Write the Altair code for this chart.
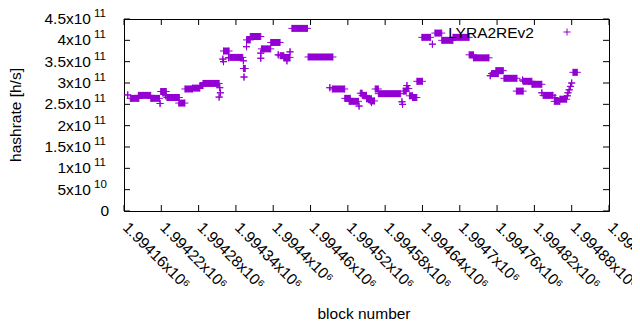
import altair as alt
import pandas as pd

# ---- data ----
seg_start = [1994166, 1994170, 1994183, 1994203, 1994218, 1994219, 1994227, 1994229, 1994248, 1994258,
             1994270, 1994282, 1994287, 1994314, 1994315, 1994313, 1994319, 1994320, 1994320, 1994328,
             1994330, 1994352, 1994352, 1994353, 1994357, 1994357, 1994363, 1994380, 1994380, 1994381,
             1994396, 1994408, 1994411, 1994417, 1994422, 1994427, 1994430, 1994456, 1994491, 1994495,
             1994515, 1994522, 1994538, 1994540, 1994543, 1994550, 1994556, 1994558, 1994564, 1994569,
             1994607, 1994608, 1994609, 1994614, 1994615, 1994619, 1994624, 1994631, 1994639, 1994656,
             1994660, 1994671, 1994689, 1994715, 1994722, 1994749, 1994751, 1994758, 1994771, 1994791,
             1994801, 1994802, 1994816, 1994832, 1994834, 1994853, 1994852, 1994861, 1994873, 1994874,
             1994876, 1994878, 1994880, 1994882]
seg_end = [1994166, 1994184, 1994203, 1994217, 1994218, 1994228, 1994227, 1994249, 1994258, 1994270,
           1994282, 1994287, 1994313, 1994314, 1994315, 1994313, 1994319, 1994320, 1994329, 1994328,
           1994351, 1994352, 1994355, 1994353, 1994357, 1994363, 1994380, 1994380, 1994380, 1994396,
           1994411, 1994408, 1994417, 1994427, 1994422, 1994427, 1994455, 1994496, 1994491, 1994515,
           1994524, 1994537, 1994538, 1994543, 1994550, 1994558, 1994563, 1994558, 1994569, 1994605,
           1994607, 1994608, 1994614, 1994618, 1994615, 1994624, 1994631, 1994640, 1994653, 1994656,
           1994671, 1994689, 1994715, 1994722, 1994747, 1994749, 1994762, 1994770, 1994792, 1994802,
           1994801, 1994816, 1994832, 1994832, 1994850, 1994853, 1994861, 1994872, 1994873, 1994874,
           1994876, 1994878, 1994880, 1994889]
seg_value = [2.72e11, 2.64e11, 2.71e11, 2.64e11, 2.52e11, 2.80e11, 2.70e11, 2.66e11, 2.53e11, 2.86e11,
             2.88e11, 2.94e11, 2.99e11, 2.89e11, 2.77e11, 2.67e11, 3.56e11, 3.50e11, 3.75e11, 3.59e11,
             3.60e11, 3.52e11, 3.34e11, 3.14e11, 3.85e11, 4.01e11, 4.09e11, 3.58e11, 3.70e11, 3.80e11,
             3.95e11, 3.66e11, 3.64e11, 3.60e11, 3.52e11, 3.73e11, 4.28e11, 3.61e11, 2.89e11, 2.86e11,
             2.64e11, 2.57e11, 2.46e11, 2.76e11, 2.71e11, 2.63e11, 2.58e11, 2.54e11, 2.86e11, 2.75e11,
             2.56e11, 2.50e11, 2.81e11, 2.87e11, 2.94e11, 2.70e11, 2.66e11, 3.04e11, 4.07e11, 3.91e11,
             4.17e11, 4.00e11, 4.07e11, 3.66e11, 3.59e11, 3.17e11, 3.22e11, 3.29e11, 3.11e11, 2.81e11,
             3.07e11, 3.04e11, 2.97e11, 2.77e11, 2.71e11, 2.66e11, 2.57e11, 2.62e11, 2.70e11, 2.77e11,
             2.84e11, 2.92e11, 3.00e11, 3.25e11]

xtick_values = [1994160, 1994220, 1994280, 1994340, 1994400, 1994460, 1994520,
                1994580, 1994640, 1994700, 1994760, 1994820, 1994880, 1994940]
xtick_labels = ["1.99416x10⁶", "1.99422x10⁶", "1.99428x10⁶", "1.99434x10⁶", "1.9944x10⁶",
                "1.99446x10⁶", "1.99452x10⁶", "1.99458x10⁶", "1.99464x10⁶", "1.9947x10⁶",
                "1.99476x10⁶", "1.99482x10⁶", "1.99488x10⁶", "1.99494x10⁶"]

ytick_values = [0, 5e10, 1e11, 1.5e11, 2e11, 2.5e11, 3e11, 3.5e11, 4e11, 4.5e11]
ytick_base = ["0", "5x10", "1x10", "1.5x10", "2x10", "2.5x10", "3x10", "3.5x10", "4x10", "4.5x10"]
ytick_exp = ["", "10", "11", "11", "11", "11", "11", "11", "11", "11"]

series_name = "LYRA2REv2"
x_title = "block number"
y_title = "hashrate [h/s]"

# ---- layout ----
W, H = 485, 192
COLOR = "#9400d3"
FONT = "Liberation Sans"
FS = 15.5
PLUS = "M-1,0L1,0M0,-1L0,1"

xs = alt.Scale(domain=[1994160, 1994940], nice=False, zero=False)
ys = alt.Scale(domain=[0, 4.5e11], nice=False, zero=False)

segs = pd.DataFrame({"start": seg_start, "end": seg_end, "value": seg_value})
pts = pd.concat([
    pd.DataFrame({"block": seg_start, "value": seg_value}),
    pd.DataFrame({"block": seg_end, "value": seg_value}),
])
xt = pd.DataFrame({"v": xtick_values, "label": xtick_labels})
yt = pd.DataFrame({"v": ytick_values, "base": ytick_base, "exp": ytick_exp})

bars = alt.Chart(segs).mark_rule(color=COLOR, strokeWidth=7, strokeCap="butt").encode(
    x=alt.X("start:Q", scale=xs, axis=None),
    x2="end:Q",
    y=alt.Y("value:Q", scale=ys, axis=None),
)
plus = alt.Chart(pts).mark_point(shape=PLUS, filled=False, color=COLOR, strokeWidth=1,
                                  size=49, opacity=1).encode(
    x=alt.X("block:Q", scale=xs, axis=None),
    y=alt.Y("value:Q", scale=ys, axis=None),
)

# inward ticks on all four sides
tick_len = 6
yt_left = alt.Chart(yt).mark_rule(color="black", strokeWidth=1).encode(
    x=alt.value(0), x2=alt.value(tick_len), y=alt.Y("v:Q", scale=ys, axis=None))
yt_right = alt.Chart(yt).mark_rule(color="black", strokeWidth=1).encode(
    x=alt.value(W - tick_len), x2=alt.value(W), y=alt.Y("v:Q", scale=ys, axis=None))
xt_bot = alt.Chart(xt).mark_rule(color="black", strokeWidth=1).encode(
    y=alt.value(H - tick_len), y2=alt.value(H), x=alt.X("v:Q", scale=xs, axis=None))
xt_top = alt.Chart(xt).mark_rule(color="black", strokeWidth=1).encode(
    y=alt.value(0), y2=alt.value(tick_len), x=alt.X("v:Q", scale=xs, axis=None))

# y tick labels
yl_base = alt.Chart(yt[yt["exp"] != ""]).mark_text(
    align="right", baseline="middle", font=FONT, fontSize=FS, color="black").encode(
    x=alt.value(-33), y=alt.Y("v:Q", scale=ys, axis=None), text="base:N")
yl_exp = alt.Chart(yt[yt["exp"] != ""]).mark_text(
    align="left", baseline="middle", font=FONT, fontSize=11.5, color="black", dy=-5).encode(
    x=alt.value(-30), y=alt.Y("v:Q", scale=ys, axis=None), text="exp:N")
yl_zero = alt.Chart(yt[yt["exp"] == ""]).mark_text(
    align="right", baseline="middle", font=FONT, fontSize=FS, color="black").encode(
    x=alt.value(-15), y=alt.Y("v:Q", scale=ys, axis=None), text="base:N")

# x tick labels (rotated 45 degrees)
xl = alt.Chart(xt).mark_text(
    align="left", baseline="alphabetic", angle=45, font=FONT, fontSize=FS, color="black",
    xOffset=-2).encode(
    x=alt.X("v:Q", scale=xs, axis=None), y=alt.value(209.5), text="label:N")

# titles
xtitle = alt.Chart(pd.DataFrame({"t": [x_title]})).mark_text(
    align="center", baseline="alphabetic", font=FONT, fontSize=FS, color="black").encode(
    x=alt.value(240), y=alt.value(300), text="t:N")
ytitle = alt.Chart(pd.DataFrame({"t": [y_title]})).mark_text(
    align="center", baseline="middle", angle=270, font=FONT, fontSize=FS, color="black").encode(
    x=alt.value(-108), y=alt.value(H / 2), text="t:N")

# key (gnuplot style: text then sample)
key_text = alt.Chart(pd.DataFrame({"t": [series_name]})).mark_text(
    align="right", baseline="alphabetic", font=FONT, fontSize=FS, color="black").encode(
    x=alt.value(410), y=alt.value(18.5), text="t:N")
key_sym = alt.Chart(pd.DataFrame({"t": [series_name]})).mark_point(
    shape=PLUS, filled=False, color=COLOR, strokeWidth=1, size=49, opacity=1).encode(
    x=alt.value(443), y=alt.value(13))

chart = alt.layer(
    bars, plus, yt_left, yt_right, xt_bot, xt_top,
    yl_base, yl_exp, yl_zero, xl,
    xtitle, ytitle, key_text, key_sym,
).properties(
    width=W, height=H,
    autosize=alt.AutoSizeParams(type="none"),
    padding={"left": 116, "top": 11, "right": 23, "bottom": 111},
).configure_view(stroke="black", strokeWidth=1)

chart.save("out.html", embed_options={"renderer": "svg", "actions": False})
